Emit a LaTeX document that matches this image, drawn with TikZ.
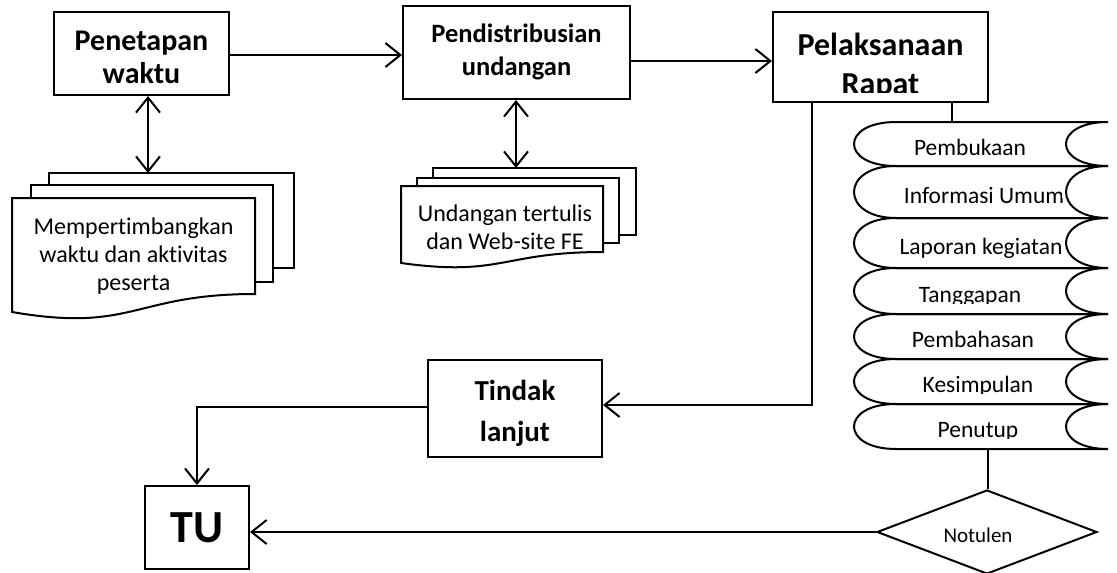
\documentclass[tikz,border=0pt]{standalone}
\usepackage{fontspec}
\setmainfont{Carlito}[Ligatures=NoCommon]
\usetikzlibrary{arrows.meta,shapes.geometric}

% geometry of the agenda (stored-data) strip
\def\dL{856}
\def\dR{1108}
\def\dr{40}
\def\dk{56}

% one agenda item: #1 name, #2 top, #3 bottom, #4 text centre x, #5 text
\newcommand\agendaitem[5]{%
  \pgfmathsetmacro\agmid{(#2+#3)/2}%
  \pgfmathsetmacro\agcut{#3-11}%
  \draw (\dL+\dr,#2) -- (\dR,#2)
    .. controls (\dR-\dk,#2) and (\dR-\dk,#3) .. (\dR,#3)
    -- (\dL+\dr,#3)
    .. controls (\dL+\dr-\dk,#3) and (\dL+\dr-\dk,#2) .. cycle;
  \begin{scope}
    \clip (\dL,#2) -- (\dR-5,#2)
      .. controls (\dR-5-\dk,#2) and (\dR-5-\dk,#3) .. (\dR-5,#3)
      -- (\dL,#3) -- cycle;
    \clip (\dL,#2) rectangle (\dR,\agcut);
    \node[itemtext, anchor=base] (#1) at (#4,\agmid+11) {#5};
  \end{scope}}

\begin{document}
\begin{tikzpicture}[x=1pt, y=-1pt, line width=2pt, line join=miter,
  box/.style={draw, fill=white, inner sep=0pt},
  sheet/.style={draw, fill=white},
  title/.style={inner sep=0pt, align=center, font=\bfseries},
  doctext/.style={inner sep=0pt, align=center, font=\fontsize{24}{28}\selectfont},
  itemtext/.style={inner sep=0pt, font=\fontsize{23.5}{28}\selectfont},
  flow/.style={-{Straight Barb[length=15pt,width=24pt]}},
  twoway/.style={{Straight Barb[length=15pt,width=24pt]}-{Straight Barb[length=15pt,width=24pt]}}]

\useasboundingbox (0,0) rectangle (1117,573);

% ---- main process boxes
\node[box, minimum width=175pt, minimum height=83pt] (pen) at (141.5,53.5) {};
\node[title, font=\bfseries\fontsize{30}{33}\selectfont] (pen-t) at (141.5,57) {Penetapan\\waktu};

\node[box, minimum width=227pt, minimum height=93pt] (dist) at (516.5,52.5) {};
\node[title, font=\bfseries\fontsize{26.5}{33}\selectfont] (dist-t) at (516.5,52) {Pendistribusian\\undangan};

\node[box, minimum width=215pt, minimum height=90pt] (pel) at (880.5,57) {};
\begin{scope}
  \clip (775,14) rectangle (986,92);
  \node[title, font=\bfseries\fontsize{32}{39}\selectfont] (pel-t) at (880.5,66.5) {Pelaksanaan\\Rapat};
\end{scope}

\node[box, minimum width=174pt, minimum height=97pt] (tin) at (515,408.5) {};
\node[title, font=\bfseries\fontsize{29}{41}\selectfont] (tin-t) at (515,413.5) {Tindak\\lanjut};

\node[box, minimum width=104pt, minimum height=83pt] (tu) at (197,527.5) {};
\node[title, anchor=base, font=\bfseries\fontsize{46}{50}\selectfont] (tu-t) at (197,542) {TU};

% ---- multi-page documents
\draw[sheet] (49,173) rectangle (294,268);
\draw[sheet] (31,185) rectangle (273,282);
\draw[sheet] (12,198) -- (255,198) -- (255,294)
  .. controls (133.5,294) and (133.5,333) .. (12,312) -- cycle;
\node[doctext] (doc1) at (133.5,256) {Mempertimbangkan\\waktu dan aktivitas\\peserta};

\draw[sheet] (433,168) rectangle (636,235);
\draw[sheet] (417,178) rectangle (619,243);
\draw[sheet] (401,186) -- (603,186) -- (603,252)
  .. controls (502,252) and (502,277) .. (401,263) -- cycle;
\node[doctext] (doc2) at (505,227) {Undangan tertulis\\dan Web-site FE};

% ---- agenda of the meeting
\agendaitem{a1}{122}{166}{970}{Pembukaan}
\agendaitem{a2}{166}{218}{984}{Informasi Umum}
\agendaitem{a3}{218}{268}{981}{Laporan kegiatan}
\agendaitem{a4}{268}{314}{970}{Tanggapan}
\agendaitem{a5}{314}{359}{973}{Pembahasan}
\agendaitem{a6}{359}{404}{978}{Kesimpulan}
\agendaitem{a7}{404}{449}{978}{Penutup}

% ---- minutes
\node[diamond, draw, aspect=2.62, minimum width=220pt, minimum height=84pt, inner sep=0pt] (notulen) at (987,532) {};
\node[anchor=base, inner sep=0pt, font=\fontsize{21}{24}\selectfont] (notulen-t) at (978,542) {Notulen};

% ---- connectors
\coordinate (d1top) at (148,173);
\coordinate (d2top) at (516,168);
\coordinate (drop) at (812,0);
\coordinate (agtop) at (952,122);
\coordinate (agbot) at (988,449);

\draw[flow] ([yshift=-1.5pt]pen.east) -- ([yshift=-1.5pt]pen.east -| dist.west);
\draw[flow] ([yshift=-4pt]pel.west -| dist.east) -- ([yshift=-4pt]pel.west);
\draw[twoway] (pen.south -| d1top) -- (d1top);
\draw[twoway] (dist.south -| d2top) -- (d2top);
\draw (pel.south -| agtop) -- (agtop);
\draw[flow] (pel.south -| drop) |- ([yshift=3.5pt]tin.east);
\draw[flow] ([yshift=1.5pt]tin.west) -| (tu.north);
\draw (agbot) -- (agbot |- notulen.north);
\draw[flow] (notulen.west) -- (notulen.west -| tu.east);
\end{tikzpicture}
\end{document}
